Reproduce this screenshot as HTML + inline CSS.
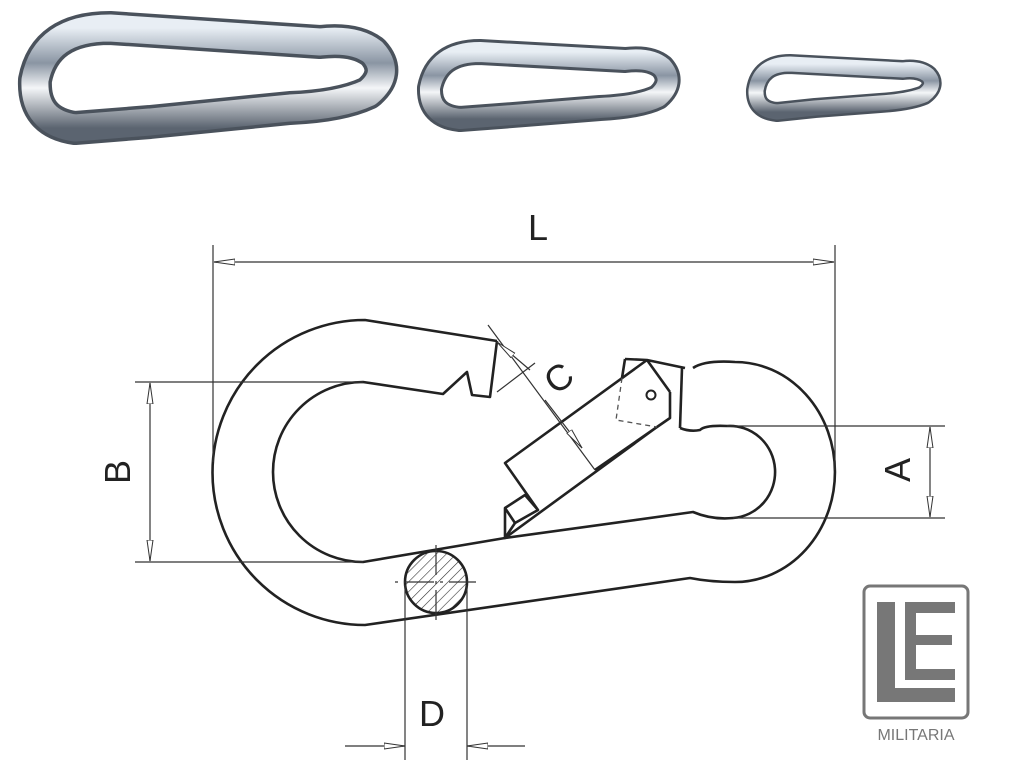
<!DOCTYPE html>
<html><head><meta charset="utf-8"><style>
html,body{margin:0;padding:0;background:#fff;width:1013px;height:768px;overflow:hidden}
</style></head><body>
<svg width="1013" height="768" viewBox="0 0 1013 768" xmlns="http://www.w3.org/2000/svg">
<defs>
<linearGradient id="met" x1="0" y1="0" x2="0" y2="1">
<stop offset="0" stop-color="#e8eef4"/><stop offset="0.35" stop-color="#8a95a3"/><stop offset="0.6" stop-color="#f4f6f8"/><stop offset="1" stop-color="#5b6470"/>
</linearGradient>
<marker id="ar" markerWidth="22" markerHeight="8" refX="21" refY="4" orient="auto-start-reverse" markerUnits="userSpaceOnUse">
<path d="M0,1 L21,4 L0,7 Z" fill="#fff" stroke="#333" stroke-width="1"/></marker>
<pattern id="hatch" width="7" height="7" patternUnits="userSpaceOnUse" patternTransform="rotate(45)">
<line x1="0" y1="0" x2="0" y2="7" stroke="#333" stroke-width="1.2"/></pattern>
</defs>

<!-- photos -->
<g fill="none" stroke-linejoin="round" stroke-linecap="round">
<g>
<path d="M150,122 L290,108 Q340,106 368,93 Q392,73 373,52 Q355,38 320,42 L110,28 Q45,28 35,80 Q33,122 75,128 Z" stroke="#4a525c" stroke-width="34"/>
<path d="M150,122 L290,108 Q340,106 368,93 Q392,73 373,52 Q355,38 320,42 L110,28 Q45,28 35,80 Q33,122 75,128 Z" stroke="url(#met)" stroke-width="27"/>
</g>
<g>
<path d="M500,116 L600,108 Q640,106 658,97 Q675,82 662,67 Q650,57 625,60 L480,52 Q437,52 430,88 Q429,116 460,119 Z" stroke="#4a525c" stroke-width="26"/>
<path d="M500,116 L600,108 Q640,106 658,97 Q675,82 662,67 Q650,57 625,60 L480,52 Q437,52 430,88 Q429,116 460,119 Z" stroke="url(#met)" stroke-width="20"/>
</g>
<g>
<path d="M815,108 L880,103 Q910,101 924,95 Q937,85 928,75 Q919,68 903,70 L790,64 Q760,64 756,90 Q755,110 777,112 Z" stroke="#4a525c" stroke-width="20"/>
<path d="M815,108 L880,103 Q910,101 924,95 Q937,85 928,75 Q919,68 903,70 L790,64 Q760,64 756,90 Q755,110 777,112 Z" stroke="url(#met)" stroke-width="15"/>
</g>
</g>

<!-- carabiner drawing -->
<g fill="none" stroke="#222" stroke-width="2.6" stroke-linejoin="round">
<path d="M497,341 L365,320 A152,152 0 0 0 365,625 L690,578 Q710,582 735,582 A100,110 0 0 0 735,362 Q705,360 693,368"/>
<path d="M497,341 L490,397 L472,395 L467,372 L443,394 L363,382 A90,90 0 0 0 363,562 L505,538 L693,512 Q712,520 733,518 A45,46 0 0 0 727,426 Q705,425 700,430 Q690,432 680,428"/>
<path d="M682,368 L680,428"/>
<path d="M625,359 L647,360 L685,368 M647,360 L505,463 L538,510 M670,392 L670,418 L657,427 L505,538 L505,508 L525,495 L538,510 L515,523 L505,508 M505,538 L515,523 M647,360 L670,392 M657,427 L595,470 M625,359 L622,378"/>
<circle cx="651" cy="395" r="4.5" stroke-width="2"/>
</g>
<path d="M622,378 L616,420 L657,427" fill="none" stroke="#555" stroke-width="1.3" stroke-dasharray="5,4"/>

<!-- cross-section D -->
<circle cx="436" cy="582" r="31" fill="url(#hatch)" stroke="#222" stroke-width="2.6"/>
<g stroke="#333" stroke-width="1.2">
<line x1="436" y1="545" x2="436" y2="625" stroke-dasharray="30,6,3,6"/>
<line x1="395" y1="582" x2="476" y2="582" stroke-dasharray="3,6,30,6"/>
</g>

<!-- dimension lines -->
<g stroke="#333" stroke-width="1.2" fill="none">
<line x1="213" y1="245" x2="213" y2="462"/>
<line x1="835" y1="245" x2="835" y2="470"/>
<line x1="214" y1="262" x2="834" y2="262" marker-start="url(#ar)" marker-end="url(#ar)"/>
<line x1="135" y1="382" x2="363" y2="382"/>
<line x1="135" y1="562" x2="363" y2="562"/>
<line x1="150" y1="383" x2="150" y2="561" marker-start="url(#ar)" marker-end="url(#ar)"/>
<line x1="727" y1="426" x2="945" y2="426"/>
<line x1="733" y1="518" x2="945" y2="518"/>
<line x1="930" y1="427" x2="930" y2="517" marker-start="url(#ar)" marker-end="url(#ar)"/>
<line x1="405" y1="585" x2="405" y2="760"/>
<line x1="467" y1="585" x2="467" y2="760"/>
<line x1="345" y1="746" x2="405" y2="746" marker-end="url(#ar)"/>
<line x1="525" y1="746" x2="467" y2="746" marker-end="url(#ar)"/>
<line x1="488" y1="325" x2="595" y2="470"/>
<line x1="497" y1="392" x2="535" y2="363"/>
<line x1="530" y1="370" x2="497" y2="342" marker-end="url(#ar)"/>
<line x1="545" y1="400" x2="582" y2="448" marker-end="url(#ar)"/>
</g>

<!-- labels -->
<g font-family="Liberation Sans, sans-serif" font-size="36" fill="#222" text-anchor="middle">
<text x="538" y="240">L</text>
<text x="432" y="726">D</text>
<text transform="translate(130,472) rotate(-90)">B</text>
<text transform="translate(910,470) rotate(-90)">A</text>
<text transform="translate(566,388) rotate(-36)">C</text>
</g>

<!-- logo -->
<rect x="864" y="586" width="104" height="132" rx="6" fill="#fff" stroke="#777" stroke-width="3"/>
<g fill="#777">
<rect x="877" y="602" width="18" height="100"/>
<rect x="877" y="688" width="78" height="14"/>
<rect x="905" y="602" width="11" height="78"/>
<rect x="905" y="602" width="50" height="11"/>
<rect x="905" y="635" width="47" height="10"/>
<rect x="905" y="669" width="50" height="11"/>
</g>
<text x="916" y="740" font-family="Liberation Sans, sans-serif" font-size="16" fill="#777" text-anchor="middle">MILITARIA</text>
</svg>
</body></html>
